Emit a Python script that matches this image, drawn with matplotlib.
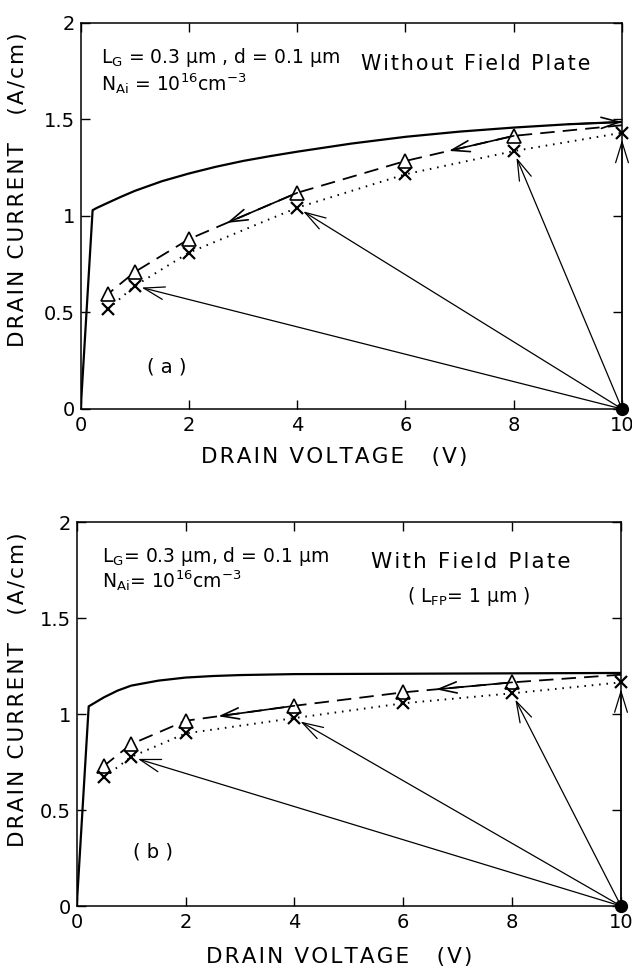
import numpy as np
from matplotlib import pyplot as plt

plt.rcParams["font.family"] = "DejaVu Sans"
plt.rcParams["mathtext.default"] = "regular"

# ---- panel (a): without field plate ----
vd_a_line = [0, 0.22, 0.3, 0.5, 0.75, 1, 1.5, 2, 2.5, 3, 3.5, 4, 5, 6, 7, 8, 9, 10]
id_a_line = [0, 1.03, 1.042, 1.068, 1.1, 1.13, 1.18, 1.22, 1.255, 1.285, 1.31,
             1.333, 1.375, 1.41, 1.437, 1.458, 1.475, 1.487]
vd_a_tri = [10, 8, 6, 4, 2, 1, 0.5]
id_a_tri = [1.47, 1.415, 1.285, 1.12, 0.88, 0.71, 0.595]
vd_a_x = [0.5, 1, 2, 4, 6, 8, 10]
id_a_x = [0.517, 0.638, 0.81, 1.043, 1.216, 1.336, 1.431]

# ---- panel (b): with field plate ----
vd_b_line = [0, 0.22, 0.5, 0.75, 1, 1.5, 2, 2.5, 3, 4, 6, 8, 10]
id_b_line = [0, 1.04, 1.087, 1.122, 1.148, 1.174, 1.19, 1.198, 1.203, 1.208,
             1.21, 1.212, 1.214]
vd_b_tri = [10, 8, 6, 4, 2, 1, 0.5]
id_b_tri = [1.205, 1.165, 1.113, 1.043, 0.965, 0.843, 0.73]
vd_b_x = [0.5, 1, 2, 4, 6, 8, 10]
id_b_x = [0.67, 0.777, 0.899, 0.979, 1.056, 1.108, 1.165]

arrow_targets = [1, 4, 8, 10]   # drain voltages hit by the step from (10 V, 0)

xticks = [0, 2, 4, 6, 8, 10]
yticks = [0, 0.5, 1, 1.5, 2]
ytick_labels = ["0", "0.5", "1", "1.5", "2"]


def spaced(s, gap="\u200a"):
    # the original lettering is widely tracked
    return gap.join(s)


fig = plt.figure(figsize=(6.32, 9.68), dpi=100)
ax_a = fig.add_axes([0.1277, 0.5775, 0.8565, 0.3988])
ax_b = fig.add_axes([0.1214, 0.0640, 0.8612, 0.3967])

big_head = dict(arrowstyle="->,head_length=15,head_width=4.6", mutation_scale=1,
                color="black", lw=0.9, shrinkA=0, shrinkB=5)
small_head = dict(arrowstyle="->,head_length=13,head_width=4", mutation_scale=1,
                  color="black", lw=1.2, shrinkA=0, shrinkB=0)


def draw_panel(ax, vl, il, vt, it, vx, ix, mid_arrows, end_arrow):
    ax.plot(vl, il, color="black", lw=1.6)
    ax.plot(vt, it, color="black", lw=1.3, ls=(0, (8, 4.5)))
    ax.plot(vt[1:], it[1:], ls="none", marker="^", ms=10.5, mfc="white",
            mec="black", mew=1.2)
    ax.plot(vx, ix, color="black", lw=1.4, ls=(0, (0.8, 3)))
    ax.plot(vx, ix, ls="none", marker="x", ms=8, mec="black", mew=1.6,
            clip_on=False)
    ax.plot([10], [0], ls="none", marker="o", ms=8.5, color="black",
            clip_on=False, zorder=5)
    for v in arrow_targets:
        y = ix[vx.index(v)]
        ax.annotate("", xy=(v, y), xytext=(10, 0), arrowprops=big_head,
                    annotation_clip=False)
    # direction arrows on the dashed (return) sweep
    for i0, frac in mid_arrows:
        x0, y0 = vt[i0], it[i0]
        x1, y1 = vt[i0 + 1], it[i0 + 1]
        xe = x0 + frac * (x1 - x0)
        ye = y0 + frac * (y1 - y0)
        ax.annotate("", xy=(xe, ye), xytext=(x0, y0), arrowprops=small_head)
    if end_arrow:
        ax.annotate("", xy=(vl[-1], il[-1]), xytext=(vl[-2], il[-2]),
                    arrowprops=small_head, annotation_clip=False)

    ax.set_xlim(0, 10)
    ax.set_ylim(0, 2)
    ax.set_xticks(xticks)
    ax.set_yticks(yticks)
    ax.set_yticklabels(ytick_labels)
    ax.tick_params(direction="in", length=6.5, width=1, top=True, right=True,
                   labelsize=14, pad=4)
    ax.tick_params(axis="x", pad=5)
    for s in ax.spines.values():
        s.set_linewidth(1.1)
    ax.set_xlabel(spaced("DRAIN VOLTAGE") + "    " + spaced("(V)"), fontsize=15.5)
    ax.set_ylabel(spaced("DRAIN CURRENT") + "    " + spaced("(A/cm)"), fontsize=15.5)


draw_panel(ax_a, vd_a_line, id_a_line, vd_a_tri, id_a_tri, vd_a_x, id_a_x,
           [(1, 0.6), (3, 0.65)], True)
draw_panel(ax_b, vd_b_line, id_b_line, vd_b_tri, id_b_tri, vd_b_x, id_b_x,
           [(1, 0.7), (3, 0.7)], False)

ax_a.xaxis.set_label_coords(0.469, -0.098)
ax_a.yaxis.set_label_coords(-0.097, 0.567)
ax_b.xaxis.set_label_coords(0.482, -0.107)
ax_b.yaxis.set_label_coords(-0.0895, 0.5625)

ax_a.text(0.375, 1.792, "$L_G$ = 0.3 μm , d = 0.1 μm", fontsize=13.5)
ax_a.text(0.375, 1.647, "$N_{Ai}$ = $10^{16}$cm$^{-3}$", fontsize=13.5)
ax_a.text(5.18, 1.756, spaced("Without Field Plate"), fontsize=14.8)
ax_a.text(1.23, 0.218, "( a )", fontsize=14, va="center")

ax_b.text(0.46, 1.79, "$L_G$= 0.3 μm, d = 0.1 μm", fontsize=13.5)
ax_b.text(0.46, 1.66, "$N_{Ai}$= $10^{16}$cm$^{-3}$", fontsize=13.5)
ax_b.text(5.41, 1.76, spaced("With Field Plate"), fontsize=15.5)
ax_b.text(6.07, 1.583, "( $L_{FP}$= 1 μm )", fontsize=13.5)
ax_b.text(1.04, 0.28, "( b )", fontsize=14, va="center")

fig.savefig("out.png", dpi=100)
